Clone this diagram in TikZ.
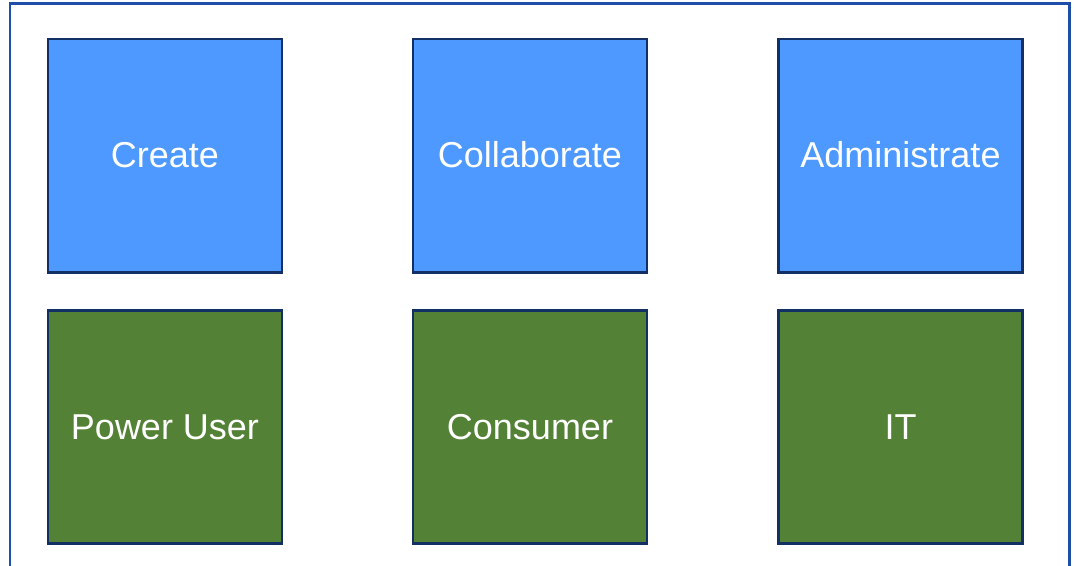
\documentclass[tikz,border=0pt]{standalone}
\usepackage{fontspec}
\setmainfont{Liberation Sans}
\definecolor{FrameClr}{RGB}{31,78,168}
\definecolor{EdgeClr}{RGB}{18,48,100}
\definecolor{TaskClr}{RGB}{77,153,255}
\definecolor{RoleClr}{RGB}{83,129,53}

\tikzset{
  tile/.style={draw=EdgeClr,line width=2pt,minimum height=175pt,
    text=white,font=\fontsize{27}{32}\selectfont,inner sep=0pt,
    text height=21pt,text depth=3pt},
  task/.style={tile,fill=TaskClr},
  role/.style={tile,fill=RoleClr}
}

\begin{document}
\begin{tikzpicture}[x=0.75pt,y=-0.75pt]
\useasboundingbox (0,0) rectangle (1076,565);

% Outer frame.
\draw[FrameClr,line width=1.6pt] (10,600) -- (10,3.5) -- (1069.5,3.5) -- (1069.5,600);

% Tasks.
\node[task,minimum width=175.5pt] (create) at (165,155.5) {Create};
\node[task,minimum width=175.5pt] (collab) at (530,155.5) {Collaborate};
\node[task,minimum width=183pt] (admin) at (900.5,155.5) {Administrate};

% Roles.
\node[role,minimum width=175.5pt] (power) at (165,427) {Power User};
\node[role,minimum width=175.5pt] (consumer) at (530,427) {Consumer};
\node[role,minimum width=183pt] (it) at (900.5,427) {IT};

\end{tikzpicture}
\end{document}
